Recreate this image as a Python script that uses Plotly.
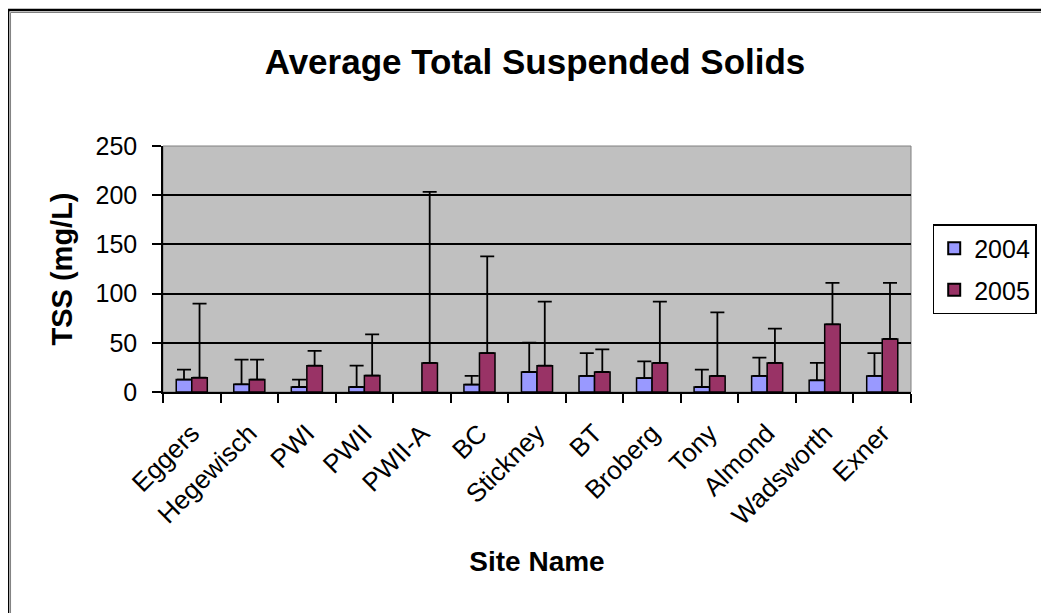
import plotly.graph_objects as go

sites = ["Eggers", "Hegewisch", "PWI", "PWII", "PWII-A", "BC", "Stickney",
         "BT", "Broberg", "Tony", "Almond", "Wadsworth", "Exner"]
tss_2004 = [12.6, 7.8, 5.1, 5.1, None, 7.5, 20.3, 16.3, 14.2, 5.1, 16.3, 11.9, 16.3]
sd_2004 = [10.2, 25.1, 7.5, 21.7, None, 8.8, 29.9, 23.3, 17.0, 17.7, 18.7, 17.6, 23.3]
tss_2005 = [14.6, 12.6, 26.8, 16.7, 29.5, 39.6, 26.8, 20.3, 29.5, 16.3, 29.5, 68.8, 53.9]
sd_2005 = [75.2, 20.3, 14.9, 41.9, 173.8, 98.3, 65.1, 23.1, 62.4, 64.7, 34.9, 42.0, 56.9]

FONT = "Arial, 'Liberation Sans', sans-serif"
OFF = 8  # page body margin
W, H = 1049 - OFF, 613 - OFF
L, T = 163 - OFF, 146 - OFF
PW, PH = 758, 246
R, B = W - L - PW, H - T - PH


def px_x(x):
    return (x - OFF - L) / PW


def px_y(y):
    return (T + PH - (y - OFF)) / PH


fig = go.Figure()
for name, vals, sd, color, grp in [("2004", tss_2004, sd_2004, "#9999FF", "a"),
                                   ("2005", tss_2005, sd_2005, "#993366", "b")]:
    fig.add_trace(go.Bar(
        x=sites, y=vals, name=name, legendgroup=grp,
        marker=dict(color=color, line=dict(color="black", width=1.5)),
        error_y=dict(type="data", array=sd, arrayminus=[0] * len(sd),
                     symmetric=False, color="black", thickness=1.8, width=7),
    ))

fig.update_layout(
    width=W, height=H, autosize=False,
    margin=dict(l=L, r=R, t=T, b=B),
    paper_bgcolor="white", plot_bgcolor="#C0C0C0",
    font=dict(family=FONT, color="black", size=25),
    barmode="group", bargap=0.46, bargroupgap=0,
    showlegend=True,
    legend=dict(x=px_x(943), y=px_y(224), xanchor="left", yanchor="top",
                bordercolor="black", borderwidth=1.5, bgcolor="white",
                font=dict(size=25, family=FONT), tracegroupgap=6,
                itemsizing="constant"),
    title=dict(text="<b>Average Total Suspended Solids</b>", x=(535 - OFF) / W, xanchor="center",
               y=1 - (62 - OFF) / H, yanchor="middle", font=dict(size=35, family=FONT)),
)

fig.update_xaxes(
    type="category", tickangle=-45, ticks="outside", ticklen=9, tickwidth=1.5,
    tickcolor="black", tickson="boundaries", showline=True, linecolor="black",
    linewidth=1.5, showgrid=False, tickfont=dict(size=26, family=FONT),
    ticklabelstandoff=14,
    title=dict(text="<b>Site Name</b>", font=dict(size=28, family=FONT), standoff=22),
)
fig.update_yaxes(
    range=[0, 250], dtick=50, ticks="outside", ticklen=9, tickwidth=1.5,
    tickcolor="black", showline=True, linecolor="black", linewidth=1.5,
    showgrid=True, gridcolor="black", gridwidth=1.5, zeroline=False,
    tickfont=dict(size=25, family=FONT), ticklabelstandoff=10,
    title=dict(text="<b>TSS (mg/L)</b>", font=dict(size=29, family=FONT), standoff=14),
)

# outer chart-area border (only top and left edges are within the picture)
fig.add_shape(type="rect", xref="paper", yref="paper",
              x0=px_x(6), x1=px_x(1070), y0=px_y(630), y1=px_y(10),
              line=dict(color="black", width=2.5), fillcolor="rgba(0,0,0,0)")
fig.add_shape(type="rect", xref="paper", yref="paper",
              x0=px_x(8.5), x1=px_x(1070), y0=px_y(630), y1=px_y(12.5),
              line=dict(color="#808080", width=1), fillcolor="rgba(0,0,0,0)")
# top/right edges of plot area
fig.add_shape(type="rect", xref="paper", yref="paper", x0=0, x1=1, y0=0, y1=1,
              line=dict(color="#808080", width=1), fillcolor="rgba(0,0,0,0)", layer="below")

fig.write_html("out.html")
